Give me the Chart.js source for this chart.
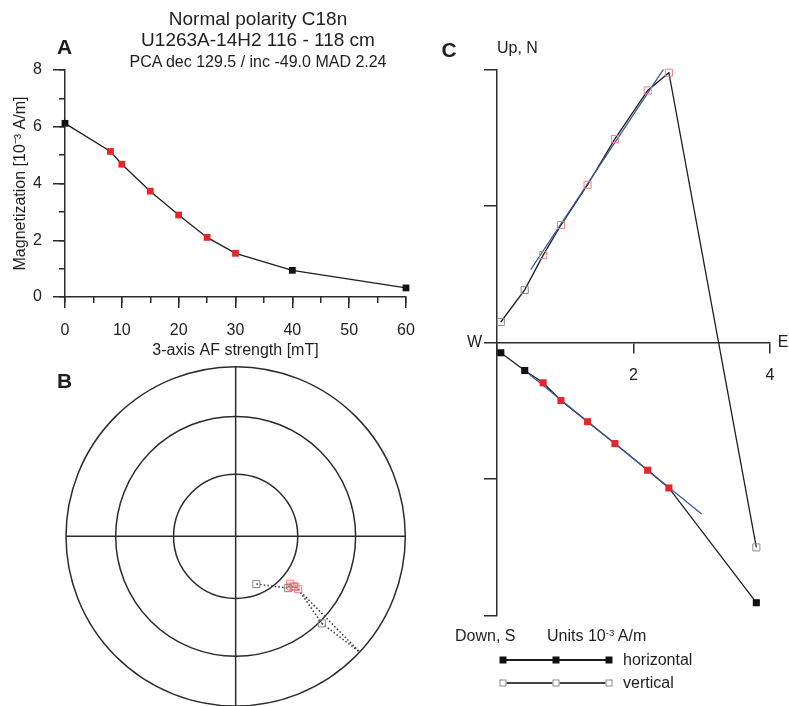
<!DOCTYPE html>
<html>
<head>
<meta charset="utf-8">
<script src="https://cdn.jsdelivr.net/npm/chart.js@4/dist/chart.umd.min.js"></script>
<style>
  html, body { margin: 0; padding: 0; background: #fff; }
  body {
    width: 789px; height: 706px; position: relative; overflow: hidden;
    font-family: "Liberation Sans", Arial, Helvetica, sans-serif; color: #1e1e1e;
  }
  canvas.layer { position: absolute; left: 0; top: 0; }
  .t { position: absolute; white-space: nowrap; line-height: 1; transform: translate(-50%, -50%); }
  .tl { position: absolute; white-space: nowrap; line-height: 1; transform: translate(0, -50%); }
  .panel { font-weight: bold; font-size: 21px; }
  sup { font-size: 0.6em; vertical-align: 0.55em; }
  .lg-line { position: absolute; height: 1.3px; }
  .lg-sq { position: absolute; width: 7px; height: 7px; box-sizing: border-box; transform: translate(-50%, -50%); }
</style>
</head>
<body>

<canvas id="cA" class="layer" width="789" height="706"></canvas>
<canvas id="cB" class="layer" width="789" height="706"></canvas>
<canvas id="cC" class="layer" width="789" height="706"></canvas>

<!-- headings -->
<div class="t" style="left:258px; top:18px; font-size:19px;">Normal polarity C18n</div>
<div class="t" style="left:258px; top:39px; font-size:19px;">U1263A-14H2 116 - 118 cm</div>
<div class="t" style="left:258px; top:62px; font-size:16px;">PCA dec 129.5 / inc -49.0 MAD 2.24</div>
<div class="t panel" style="left:64.5px; top:45.5px;">A</div>
<div class="t panel" style="left:64.5px; top:379.5px;">B</div>
<div class="t panel" style="left:449px; top:48.5px;">C</div>

<!-- Zijderveld axis labels -->
<div class="tl" style="left:497px; top:48px; font-size:16px;">Up, N</div>
<div class="t" style="left:474.5px; top:342px; font-size:16px;">W</div>
<div class="t" style="left:783px; top:342px; font-size:16px;">E</div>
<div class="tl" style="left:455px; top:636px; font-size:16px;">Down, S</div>
<div class="tl" style="left:547px; top:636px; font-size:16px;">Units 10<sup>-3</sup> A/m</div>

<!-- Zijderveld legend -->
<div class="lg-line" style="left:503px; top:659.4px; width:106px; background:#1e1e1e;"></div>
<div class="lg-sq" style="left:503px; top:660px; background:#111;"></div>
<div class="lg-sq" style="left:556px; top:660px; background:#111;"></div>
<div class="lg-sq" style="left:609px; top:660px; background:#111;"></div>
<div class="tl" style="left:623px; top:660px; font-size:16px;">horizontal</div>
<div class="lg-line" style="left:503px; top:682.4px; width:106px; background:#444;"></div>
<div class="lg-sq" style="left:503px; top:683px; border:1px solid #8a8a8a; background:#fff;"></div>
<div class="lg-sq" style="left:556px; top:683px; border:1px solid #8a8a8a; background:#fff;"></div>
<div class="lg-sq" style="left:609px; top:683px; border:1px solid #8a8a8a; background:#fff;"></div>
<div class="tl" style="left:623px; top:683px; font-size:16px;">vertical</div>

<script>
// ---- data ----

// demagnetization steps [mT] and remanence [10^-3 A/m]
const afSteps = [0, 8, 10, 15, 20, 25, 30, 40, 60];
const magnetization = [6.12, 5.13, 4.68, 3.73, 2.89, 2.10, 1.54, 0.94, 0.32];
// steps used in the PCA fit (red)
const pcaSteps = [8, 10, 15, 20, 25, 30];

// Zijderveld components per step [10^-3 A/m]
const zEast  = [3.80, 2.52, 2.21, 1.73, 1.33, 0.94, 0.68, 0.41, 0.06];
const zNorth = [-3.81, -2.13, -1.87, -1.48, -1.16, -0.85, -0.59, -0.41, -0.15];
const zUp    = [-3.00, 3.95, 3.69, 2.98, 2.31, 1.72, 1.28, 0.77, 0.30];

// PCA fit lines (end points)
const fitVertE  = [0.50, 2.44];
const fitVertUp = [1.07, 4.00];
const fitHorE   = [0.41, 3.00];
const fitHorN   = [-0.41, -2.51];

// equal-area net: directions per step
const stereoDec = [135.3, 130.2, 130.2, 130.5, 131.1, 132.1, 131.0, 134.6, 156.5];
const stereoInc = [28.6, -50.1, -51.9, -52.6, -52.6, -53.6, -54.9, -54.2, -65.0];
const equatorCrossDec = 133;
const netCircleInc = [60, 30, 0];

// ---- styling ----
const FONT = '"Liberation Sans", Arial, Helvetica, sans-serif';
Chart.defaults.font.family = FONT;
Chart.defaults.color = '#1e1e1e';
const axisCol = '#2b2b2b';
const inkCol = '#1e1e1e';
const fitRed = '#e3262b';
const openRed = '#ee8080';
const openGray = '#8a8a8a';
const fitBlue = '#3a55a4';

const isFit = i => pcaSteps.includes(afSteps[i]);
const noUi = { legend: { display: false }, tooltip: { enabled: false } };

// ==== A: intensity decay ====
new Chart(document.getElementById('cA'), {
  type: 'line',
  data: {
    datasets: [{
      data: afSteps.map((s, i) => ({ x: s, y: magnetization[i] })),
      borderColor: inkCol,
      borderWidth: 1.3,
      tension: 0,
      clip: false,
      pointStyle: 'rect',
      pointRadius: 4.8,
      pointBorderWidth: 0,
      pointBackgroundColor: ctx => isFit(ctx.dataIndex) ? fitRed : '#111',
    }],
  },
  options: {
    responsive: false,
    animation: false,
    layout: { autoPadding: false, padding: { left: 0, top: 70, right: 383, bottom: 346 } },
    plugins: noUi,
    scales: {
      x: {
        type: 'linear', position: 'bottom', min: 0, max: 60,
        afterFit: s => { s.height = 63; },
        border: { color: axisCol, width: 1.5 },
        grid: { drawOnChartArea: false, tickLength: 11, color: axisCol, lineWidth: 1.5 },
        ticks: { stepSize: 10, padding: 13, font: { size: 16 }, color: inkCol },
        title: { display: true, text: '3-axis AF strength [mT]', font: { size: 16 }, color: inkCol, padding: { top: 1, bottom: 0 } },
      },
      xMinor: {
        type: 'linear', axis: 'x', position: { y: 0 }, min: 0, max: 60,
        border: { display: false },
        grid: { drawOnChartArea: false, tickLength: 6, color: axisCol, lineWidth: 1.5 },
        ticks: { stepSize: 5, display: false },
      },
      y: {
        type: 'linear', position: 'left', min: 0, max: 8,
        afterFit: s => { s.width = 65; },
        border: { color: axisCol, width: 1.5 },
        grid: { drawOnChartArea: false, tickLength: 12, color: axisCol, lineWidth: 1.5 },
        ticks: { stepSize: 2, padding: 11, font: { size: 16 }, color: inkCol },
        title: { display: true, text: 'Magnetization [10⁻³ A/m]', font: { size: 16 }, color: inkCol, padding: { top: 11, bottom: 0 } },
      },
      yMinor: {
        type: 'linear', axis: 'y', position: { x: 0 }, min: 0, max: 8,
        border: { display: false },
        grid: { drawOnChartArea: false, tickLength: 6, color: axisCol, lineWidth: 1.5 },
        ticks: { stepSize: 1, display: false },
      },
    },
  },
});

// ==== B: equal-area stereonet ====
function project(dec, inc) {
  const r = Math.SQRT2 * Math.sin((90 - Math.abs(inc)) / 2 * Math.PI / 180);
  const d = dec * Math.PI / 180;
  return { x: r * Math.sin(d), y: r * Math.cos(d) };
}
const stereoPts = stereoDec.map((d, i) => project(d, stereoInc[i]));
const edgePt = project(equatorCrossDec, 0);

const netPlugin = {
  id: 'net',
  beforeDatasetsDraw(chart) {
    const { ctx, scales: { x, y } } = chart;
    const cx = x.getPixelForValue(0), cy = y.getPixelForValue(0);
    ctx.save();
    ctx.strokeStyle = axisCol;
    ctx.lineWidth = 1.5;
    netCircleInc.forEach(inc => {
      const r = x.getPixelForValue(project(90, inc).x) - cx;
      ctx.beginPath();
      ctx.arc(cx, cy, r, 0, Math.PI * 2);
      ctx.stroke();
    });
    ctx.beginPath();
    ctx.moveTo(x.getPixelForValue(-1), cy); ctx.lineTo(x.getPixelForValue(1), cy);
    ctx.moveTo(cx, y.getPixelForValue(1)); ctx.lineTo(cx, y.getPixelForValue(-1));
    ctx.stroke();
    ctx.restore();
  },
};

const dotted = { type: 'line', borderColor: '#333', borderWidth: 1.5, borderDash: [1.5, 2.2], pointRadius: 0, tension: 0, clip: false };
new Chart(document.getElementById('cB'), {
  type: 'scatter',
  data: {
    datasets: [
      {
        data: stereoPts, showLine: false, clip: false,
        pointStyle: 'rect', pointRadius: 5,
        pointBackgroundColor: 'rgba(255,255,255,0)', pointBorderWidth: 1,
        pointBorderColor: ctx => isFit(ctx.dataIndex) ? openRed : openGray,
      },
      { ...dotted, data: [8, 7, 6, 5, 4, 3, 2, 1, 0].map(i => stereoPts[i]) },
      { ...dotted, data: [stereoPts[0], edgePt] },
      { ...dotted, data: [stereoPts[1], edgePt] },
    ],
  },
  options: {
    responsive: false,
    animation: false,
    layout: { autoPadding: false, padding: { left: 66, top: 366.7, right: 383.7, bottom: 0 } },
    plugins: noUi,
    scales: {
      x: { type: 'linear', display: false, min: -1, max: 1 },
      y: { type: 'linear', display: false, min: -1, max: 1 },
    },
  },
  plugins: [netPlugin],
});

// ==== C: Zijderveld diagram ====
const vertPts = zEast.map((e, i) => ({ x: e, y: zUp[i] }));
const horPts = zEast.map((e, i) => ({ x: e, y: zNorth[i] }));
new Chart(document.getElementById('cC'), {
  type: 'scatter',
  data: {
    datasets: [
      { // horizontal projection markers
        data: horPts, showLine: false, clip: false, order: 0,
        pointStyle: 'rect', pointRadius: 5, pointBorderWidth: 0,
        pointBackgroundColor: ctx => isFit(ctx.dataIndex) ? fitRed : '#111',
      },
      { // vertical projection markers
        data: vertPts, showLine: false, clip: false, order: 0,
        pointStyle: 'rect', pointRadius: 5, pointBorderWidth: 1,
        pointBackgroundColor: 'rgba(255,255,255,0)',
        pointBorderColor: ctx => isFit(ctx.dataIndex) ? openRed : openGray,
      },
      { type: 'line', data: fitVertE.map((e, i) => ({ x: e, y: fitVertUp[i] })), borderColor: fitBlue, borderWidth: 1.2, pointRadius: 0, order: 1 },
      { type: 'line', data: fitHorE.map((e, i) => ({ x: e, y: fitHorN[i] })), borderColor: fitBlue, borderWidth: 1.2, pointRadius: 0, order: 1 },
      { type: 'line', data: vertPts, borderColor: inkCol, borderWidth: 1.3, pointRadius: 0, tension: 0, order: 2 },
      { type: 'line', data: horPts, borderColor: inkCol, borderWidth: 1.3, pointRadius: 0, tension: 0, order: 2 },
    ],
  },
  options: {
    responsive: false,
    animation: false,
    layout: { autoPadding: false, padding: { left: 496.7, top: 69.3, right: 19, bottom: 90.3 } },
    plugins: noUi,
    scales: {
      x: {
        type: 'linear', position: { y: 0 }, min: 0, max: 4,
        border: { color: axisCol, width: 1.5 },
        grid: { drawOnChartArea: false, tickLength: 10, color: axisCol, lineWidth: 1.5 },
        ticks: { stepSize: 2, padding: 13, font: { size: 16 }, color: inkCol, callback: v => v === 0 ? '' : v },
      },
      y: {
        type: 'linear', position: { x: 0 }, min: -4, max: 4,
        border: { color: axisCol, width: 1.5 },
        grid: { drawOnChartArea: false, tickLength: 12, color: axisCol, lineWidth: 1.5 },
        ticks: { stepSize: 2, display: false },
      },
    },
  },
});
</script>
</body>
</html>
